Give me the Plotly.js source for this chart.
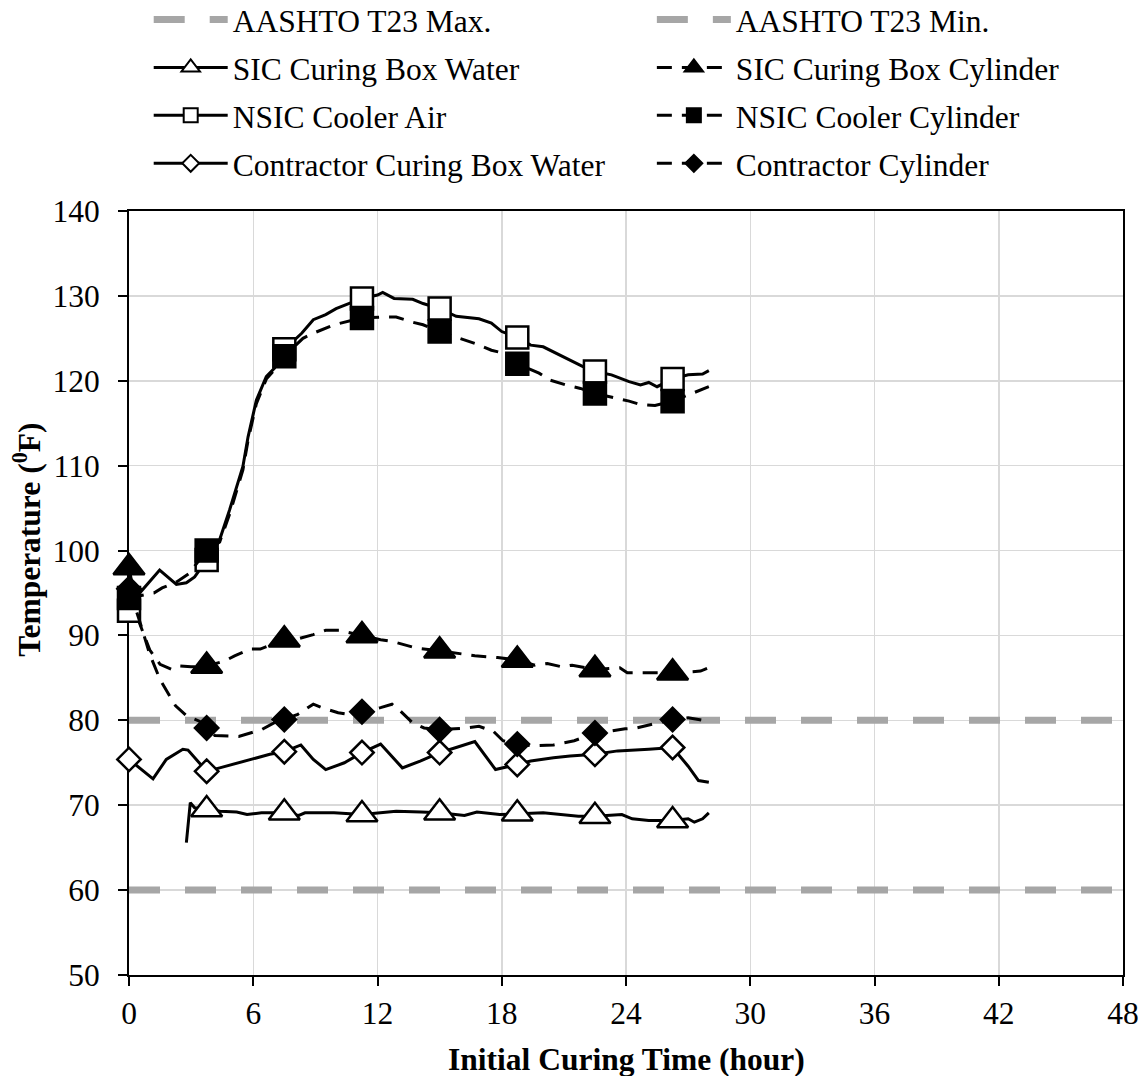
<!DOCTYPE html>
<html>
<head>
<meta charset="utf-8">
<script src="https://cdn.plot.ly/plotly-3.0.1.min.js"></script>
<style>
html, body { margin: 0; padding: 0; background: #ffffff; }
#chart { width: 1143px; height: 1076px; }
</style>
</head>
<body>
<div id="chart"></div>
<script>
// ---------------- data ----------------
const MARKER_HOURS = [0, 3.75, 7.5, 11.25, 15, 18.75, 22.5, 26.25];

const LIMIT_X = [0, 48];
const AASHTO_MAX_Y = [80, 80];
const AASHTO_MIN_Y = [60, 60];

const SIC_WATER_X = [2.77, 2.96, 3.17, 3.75, 4.4, 5.2, 5.7, 6.0, 6.4, 7.5, 8.2, 8.5, 9.9, 11.25, 12.0, 12.9, 14.1, 15.0, 16.2, 16.8, 17.9, 18.75, 20.0, 21.7, 22.5, 23.8, 24.3, 25.1, 26.25, 27.0, 27.3, 27.7, 28.0];
const SIC_WATER_Y = [65.6, 70.3, 69.7, 69.5, 69.3, 69.2, 68.9, 69.0, 69.1, 69.1, 68.8, 69.1, 69.1, 68.9, 69.1, 69.3, 69.2, 69.1, 68.8, 69.2, 68.9, 69.0, 69.1, 68.7, 68.7, 68.9, 68.4, 68.2, 68.2, 68.4, 68.0, 68.4, 69.1];

const SIC_CYL_X = [0, 0.5, 1.0, 1.5, 2.06, 2.44, 3.0, 3.75, 4.63, 5.1, 5.87, 6.34, 7.5, 8.15, 8.9, 9.5, 10.15, 11.25, 12.15, 12.7, 13.3, 13.9, 15.0, 16.0, 16.7, 17.8, 18.75, 19.6, 20.2, 20.9, 21.4, 22.5, 23.7, 24.06, 24.9, 26.25, 27.0, 27.6, 28.0];
const SIC_CYL_Y = [98.0, 91.5, 88.3, 86.6, 86.0, 86.4, 86.3, 86.4, 87.0, 87.6, 88.4, 88.4, 89.5, 89.6, 90.1, 90.6, 90.6, 90.0, 89.5, 89.3, 88.9, 88.5, 88.2, 87.8, 87.6, 87.4, 87.1, 86.5, 86.7, 86.3, 86.5, 86.0, 86.2, 85.6, 85.6, 85.6, 85.7, 85.8, 86.2];

const NSIC_AIR_X = [0, 0.52, 1.48, 2.29, 2.77, 3.17, 3.75, 4.38, 4.86, 5.5, 5.75, 6.15, 6.63, 7.03, 7.5, 8.34, 8.9, 9.5, 10.0, 10.6, 11.25, 12.0, 12.25, 12.8, 13.7, 14.2, 15.0, 15.8, 16.9, 17.5, 18.0, 18.75, 19.4, 20.0, 21.1, 21.9, 22.5, 23.3, 24.15, 24.7, 25.1, 25.5, 26.25, 27.0, 27.7, 28.0];
const NSIC_AIR_Y = [92.9, 95.0, 97.7, 96.0, 96.2, 96.9, 98.9, 101.3, 104.8, 109.9, 113.4, 117.7, 120.5, 121.5, 123.7, 125.6, 127.2, 127.8, 128.5, 129.1, 129.7, 130.1, 130.4, 129.7, 129.6, 129.1, 128.5, 127.6, 127.3, 126.8, 125.8, 125.1, 124.2, 124.0, 122.7, 121.7, 121.1, 120.7, 119.9, 119.5, 119.8, 119.3, 120.2, 120.7, 120.8, 121.2];

const NSIC_CYL_X = [0, 1.2, 1.6, 2.3, 2.9, 3.75, 4.38, 4.86, 5.5, 5.75, 6.15, 6.63, 7.03, 7.5, 8.4, 8.9, 9.9, 11.25, 12.25, 12.9, 13.7, 14.2, 15.0, 16.2, 16.7, 17.5, 18.0, 18.75, 19.8, 20.3, 21.1, 21.8, 22.5, 23.6, 24.15, 24.7, 25.4, 26.25, 27.4, 28.0];
const NSIC_CYL_Y = [94.4, 95.0, 95.6, 96.3, 97.3, 100.0, 101.0, 104.3, 109.5, 113.0, 117.3, 120.2, 121.3, 122.9, 125.0, 125.6, 126.6, 127.4, 127.5, 127.5, 126.9, 126.6, 125.8, 124.8, 124.4, 123.6, 123.3, 122.0, 120.9, 120.1, 119.5, 119.1, 118.5, 117.9, 117.6, 117.2, 117.1, 117.6, 118.7, 119.3];

const CONTR_WATER_X = [0, 1.16, 1.8, 2.6, 2.85, 3.75, 4.38, 5.0, 6.0, 6.8, 7.5, 8.3, 8.9, 9.5, 10.4, 11.25, 12.15, 13.2, 14.06, 15.0, 15.8, 16.7, 17.7, 18.75, 19.4, 20.5, 21.3, 22.5, 23.6, 25.1, 26.25, 27.0, 27.5, 28.0];
const CONTR_WATER_Y = [75.4, 73.1, 75.4, 76.6, 76.5, 74.0, 74.4, 74.8, 75.4, 76.0, 76.3, 77.1, 75.4, 74.2, 75.0, 76.2, 77.2, 74.4, 75.2, 76.2, 76.8, 77.5, 74.2, 74.8, 75.2, 75.6, 75.8, 76.0, 76.4, 76.6, 76.8, 74.6, 72.9, 72.7];

const CONTR_CYL_X = [0, 0.5, 1.0, 1.5, 2.25, 2.8, 3.4, 3.75, 4.15, 5.3, 5.7, 6.4, 7.0, 7.5, 8.15, 8.9, 9.3, 10.1, 10.6, 11.25, 12.15, 12.7, 13.1, 13.7, 14.25, 15.0, 16.3, 16.9, 17.6, 18.06, 18.75, 19.5, 20.5, 21.5, 22.5, 23.2, 23.96, 24.5, 26.25, 27.0, 28.0];
const CONTR_CYL_Y = [95.5, 91.8, 87.8, 84.8, 81.7, 80.5, 79.9, 79.1, 78.2, 78.1, 78.4, 78.9, 79.7, 80.1, 80.7, 81.9, 81.5, 80.9, 80.7, 81.0, 81.5, 81.9, 81.1, 79.7, 79.1, 78.9, 79.1, 79.3, 78.7, 77.6, 77.2, 77.0, 77.1, 77.6, 78.5, 78.7, 79.0, 79.1, 80.1, 80.3, 79.9];

const X_RANGE = [0, 48];
const Y_RANGE = [50, 140];
const X_TITLE = 'Initial Curing Time (hour)';
const Y_TITLE = 'Temperature (<sup>0</sup>F)';

// ---------------- styling ----------------
const FONT = 'Liberation Serif';
const FS = 31.5;
const DASH = '15px,10px';
const GRAY = '#A6A6A6';

const series = [
  {name: 'SIC Curing Box Water',        x: SIC_WATER_X,   y: SIC_WATER_Y,   dash: 'solid', symbol: 'triangle-up', fill: '#ffffff', size: 27, legend: 'legend'},
  {name: 'SIC Curing Box Cylinder',     x: SIC_CYL_X,     y: SIC_CYL_Y,     dash: DASH,    symbol: 'triangle-up', fill: '#000000', size: 27, legend: 'legend2'},
  {name: 'NSIC Cooler Air',             x: NSIC_AIR_X,    y: NSIC_AIR_Y,    dash: 'solid', symbol: 'square',      fill: '#ffffff', size: 22, legend: 'legend'},
  {name: 'NSIC Cooler Cylinder',        x: NSIC_CYL_X,    y: NSIC_CYL_Y,    dash: DASH,    symbol: 'square',      fill: '#000000', size: 22, legend: 'legend2'},
  {name: 'Contractor Curing Box Water', x: CONTR_WATER_X, y: CONTR_WATER_Y, dash: 'solid', symbol: 'diamond',     fill: '#ffffff', size: 18, legend: 'legend'},
  {name: 'Contractor Cylinder',         x: CONTR_CYL_X,   y: CONTR_CYL_Y,   dash: DASH,    symbol: 'diamond',     fill: '#000000', size: 18, legend: 'legend2'}
];
const LEGEND_MARKER_SIZE = {'triangle-up': 16, 'square': 14, 'diamond': 13};

const traces = [];
traces.push({
  type: 'scatter', mode: 'lines', x: LIMIT_X, y: AASHTO_MAX_Y, name: 'AASHTO T23 Max.',
  line: {color: GRAY, width: 7, dash: '31px,25px'}, legend: 'legend', legendgroup: 'g0', hoverinfo: 'skip'
});
traces.push({
  type: 'scatter', mode: 'lines', x: LIMIT_X, y: AASHTO_MIN_Y, name: 'AASHTO T23 Min.',
  line: {color: GRAY, width: 7, dash: '31px,25px'}, legend: 'legend2', legendgroup: 'g1', hoverinfo: 'skip'
});

series.forEach(function (s) {
  traces.push({
    type: 'scatter', mode: 'lines', x: s.x, y: s.y, showlegend: false, hoverinfo: 'skip',
    line: {color: '#000000', width: 3, dash: s.dash}
  });
  const mx = [], my = [];
  s.x.forEach(function (v, i) { if (MARKER_HOURS.indexOf(v) >= 0) { mx.push(v); my.push(s.y[i]); } });
  traces.push({
    type: 'scatter', mode: 'markers', x: mx, y: my, showlegend: false, cliponaxis: false, hoverinfo: 'skip',
    marker: {symbol: s.symbol, size: s.size, color: s.fill, line: {color: '#000000', width: 2.5}}
  });
});

series.forEach(function (s, i) {
  traces.push({
    type: 'scatter', mode: 'lines+markers', x: [null], y: [null], name: s.name,
    legend: s.legend, legendgroup: 'g' + (i + 2),
    line: {color: '#000000', width: 3, dash: s.dash},
    marker: {symbol: s.symbol, size: LEGEND_MARKER_SIZE[s.symbol], color: s.fill, line: {color: '#000000', width: 2}}
  });
});

const W = 1143, H = 1076;
const M = {l: 129.3, r: 20, t: 210.7, b: 100.7};
const PW = W - M.l - M.r, PH = H - M.t - M.b;
const px2x = function (p) { return (p - M.l) / PW; };
const py2y = function (p) { return (H - M.b - p) / PH; };

const tickFont = {family: FONT, size: FS, color: '#000000'};
const legendBase = {
  orientation: 'v', xanchor: 'left', yanchor: 'top',
  font: {family: FONT, size: FS, color: '#000000'},
  itemwidth: 74, traceorder: 'grouped', tracegroupgap: 4,
  bgcolor: 'rgba(0,0,0,0)', borderwidth: 0
};

const layout = {
  width: W, height: H,
  margin: {l: M.l, r: M.r, t: M.t, b: M.b, pad: 0, autoexpand: false},
  paper_bgcolor: '#ffffff', plot_bgcolor: '#ffffff',
  font: {family: FONT, size: FS, color: '#000000'},
  showlegend: true,
  legend: Object.assign({}, legendBase, {x: px2x(149), y: py2y(-8)}),
  legend2: Object.assign({}, legendBase, {x: px2x(652), y: py2y(-8)}),
  xaxis: {
    range: X_RANGE, tick0: 0, dtick: 6, showgrid: true, gridcolor: '#D9D9D9', gridwidth: 1.5,
    showline: true, linecolor: '#000000', linewidth: 2, mirror: true, zeroline: false,
    ticks: 'outside', ticklen: 9, tickwidth: 2, tickcolor: '#000000', tickfont: tickFont,
    ticklabelstandoff: 0, layer: 'below traces', fixedrange: true
  },
  xaxis2: {
    overlaying: 'x', anchor: 'y', range: X_RANGE, tick0: 0, dtick: 6, showgrid: false, zeroline: false,
    showline: false, ticks: 'inside', ticklen: 9, tickwidth: 2, tickcolor: '#000000', showticklabels: false,
    layer: 'below traces', fixedrange: true
  },
  yaxis: {
    range: Y_RANGE, tick0: 50, dtick: 10, showgrid: true, gridcolor: '#D9D9D9', gridwidth: 1.5,
    showline: true, linecolor: '#000000', linewidth: 2, mirror: true, zeroline: false,
    ticks: 'outside', ticklen: 9, tickwidth: 2, tickcolor: '#000000', tickfont: tickFont,
    ticklabelstandoff: 12, layer: 'below traces', fixedrange: true
  },
  yaxis2: {
    overlaying: 'y', anchor: 'x', side: 'left', range: Y_RANGE, tick0: 50, dtick: 10, showgrid: false, zeroline: false,
    showline: false, ticks: 'inside', ticklen: 9, tickwidth: 2, tickcolor: '#000000', showticklabels: false,
    layer: 'below traces', fixedrange: true
  },
  annotations: [
    {text: '<b>' + X_TITLE + '</b>', xref: 'paper', yref: 'paper', x: 0.5, y: py2y(1060),
     xanchor: 'center', yanchor: 'middle', showarrow: false, font: {family: FONT, size: FS, color: '#000000'}},
    {text: '<b>' + Y_TITLE + '</b>', xref: 'paper', yref: 'paper', x: px2x(27), y: py2y(540),
     xanchor: 'center', yanchor: 'middle', textangle: -90, showarrow: false, font: {family: FONT, size: FS, color: '#000000'}}
  ]
};

Plotly.newPlot('chart', traces, layout, {displayModeBar: false, staticPlot: true});
</script>
</body>
</html>
